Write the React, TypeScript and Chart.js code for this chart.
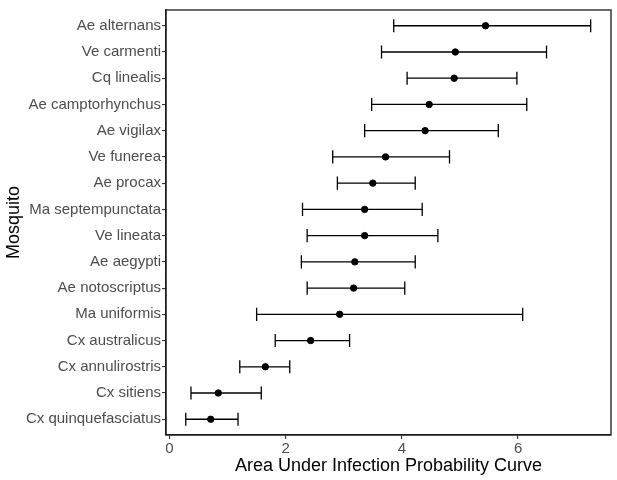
import React, { useEffect, useRef } from "react";
import { Chart, registerables } from "chart.js";

Chart.register(...registerables);

const mosquitoes = [
  "Ae alternans",
  "Ve carmenti",
  "Cq linealis",
  "Ae camptorhynchus",
  "Ae vigilax",
  "Ve funerea",
  "Ae procax",
  "Ma septempunctata",
  "Ve lineata",
  "Ae aegypti",
  "Ae notoscriptus",
  "Ma uniformis",
  "Cx australicus",
  "Cx annulirostris",
  "Cx sitiens",
  "Cx quinquefasciatus",
];

const estimate = [5.44, 4.92, 4.9, 4.47, 4.4, 3.72, 3.5, 3.36, 3.36, 3.19, 3.17, 2.93, 2.43, 1.65, 0.84, 0.71];
const lower = [3.86, 3.65, 4.09, 3.48, 3.36, 2.81, 2.89, 2.29, 2.37, 2.27, 2.37, 1.5, 1.82, 1.21, 0.37, 0.28];
const upper = [7.25, 6.49, 5.98, 6.15, 5.66, 4.82, 4.23, 4.35, 4.62, 4.23, 4.05, 6.08, 3.1, 2.07, 1.58, 1.18];

const xTicks = [0, 2, 4, 6];
const xTitle = "Area Under Infection Probability Curve";
const yTitle = "Mosquito";

const FONT = "'Liberation Sans', Arial, sans-serif";

const errorBarPlugin = {
  id: "errorBars",
  beforeDatasetsDraw(chart: any) {
    const { ctx, scales } = chart;
    const xs = scales.x;
    const ys = scales.y;
    ctx.save();
    ctx.strokeStyle = "#000000";
    ctx.lineWidth = 1.3;
    mosquitoes.forEach((_, i) => {
      const yv = i + 1;
      const py = ys.getPixelForValue(yv);
      const pyTop = ys.getPixelForValue(yv - 0.25);
      const pyBot = ys.getPixelForValue(yv + 0.25);
      const xl = xs.getPixelForValue(lower[i]);
      const xr = xs.getPixelForValue(upper[i]);
      ctx.beginPath();
      ctx.moveTo(xl, py);
      ctx.lineTo(xr, py);
      ctx.moveTo(xl, pyTop);
      ctx.lineTo(xl, pyBot);
      ctx.moveTo(xr, pyTop);
      ctx.lineTo(xr, pyBot);
      ctx.stroke();
    });
    ctx.restore();
  },
  afterDraw(chart: any) {
    const { ctx, chartArea } = chart;
    ctx.save();
    ctx.strokeStyle = "#1a1a1a";
    ctx.lineWidth = 1.3;
    ctx.strokeRect(chartArea.left, chartArea.top, chartArea.right - chartArea.left, chartArea.bottom - chartArea.top);
    ctx.restore();
  },
};

export default function App() {
  const ref = useRef<HTMLCanvasElement>(null);

  useEffect(() => {
    document.body.style.margin = "0";
    if (!ref.current) return;
    const chart = new Chart(ref.current, {
      type: "scatter",
      data: {
        datasets: [
          {
            data: estimate.map((v, i) => ({ x: v, y: i + 1 })),
            backgroundColor: "#000000",
            borderColor: "#000000",
            pointRadius: 3.2,
            pointHoverRadius: 3.2,
          },
        ],
      },
      options: {
        animation: false,
        responsive: false,
        devicePixelRatio: 1,
        layout: { padding: { top: 6, right: 6, left: 0, bottom: 0 } },
        plugins: {
          legend: { display: false },
          tooltip: { enabled: false },
        },
        scales: {
          x: {
            type: "linear",
            min: -0.06,
            max: 7.6,
            afterBuildTicks: (scale: any) => {
              scale.ticks = xTicks.map((v) => ({ value: v }));
            },
            afterFit: (scale: any) => {
              scale.height = 45;
            },
            grid: {
              drawOnChartArea: false,
              drawTicks: true,
              tickLength: 4,
              color: "#333333",
              lineWidth: 1.1,
            },
            border: { display: true, color: "#1a1a1a", width: 1.3 },
            ticks: {
              color: "#4d4d4d",
              font: { family: FONT, size: 15 },
              padding: 1,
              maxRotation: 0,
              autoSkip: false,
            },
            title: {
              display: true,
              text: xTitle,
              color: "#000000",
              font: { family: FONT, size: 18 },
              padding: { top: 0, bottom: 3 },
            },
          },
          y: {
            type: "linear",
            reverse: true,
            min: 0.4,
            max: 16.6,
            afterBuildTicks: (scale: any) => {
              scale.ticks = mosquitoes.map((_, i) => ({ value: i + 1 }));
            },
            afterFit: (scale: any) => {
              scale.width = 166;
            },
            grid: {
              drawOnChartArea: false,
              drawTicks: true,
              tickLength: 4,
              color: "#333333",
              lineWidth: 1.1,
            },
            border: { display: true, color: "#1a1a1a", width: 1.3 },
            ticks: {
              color: "#4d4d4d",
              font: { family: FONT, size: 15 },
              padding: 1,
              autoSkip: false,
              callback: (value: any) => mosquitoes[Math.round(Number(value)) - 1] ?? "",
            },
            title: {
              display: true,
              text: yTitle,
              color: "#000000",
              font: { family: FONT, size: 18 },
              padding: { top: 3, bottom: 0 },
            },
          },
        },
      },
      plugins: [errorBarPlugin],
    });
    return () => chart.destroy();
  }, []);

  return (
    <div style={{ width: 617, height: 480 }}>
      <canvas ref={ref} width={617} height={480} style={{ width: 617, height: 480, display: "block" }} />
    </div>
  );
}
